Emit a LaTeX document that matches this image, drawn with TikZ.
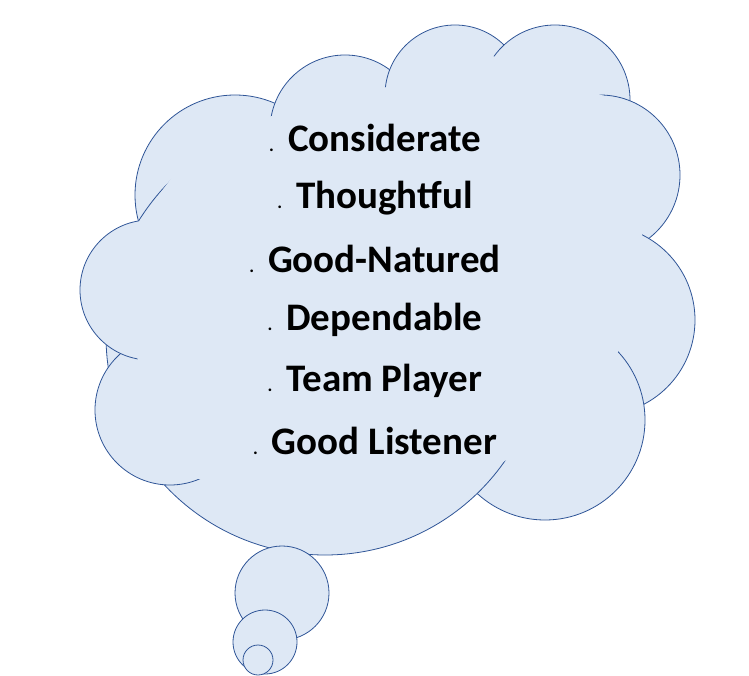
\documentclass[tikz,border=0pt]{standalone}
\usepackage{fontspec}
\setmainfont{Carlito}
\definecolor{cfill}{HTML}{DEE8F5}
\definecolor{cline}{HTML}{2F5597}
\newcommand{\bul}{{\fontsize{18}{18}\selectfont.}\hspace{14pt}}
\begin{document}
\begin{tikzpicture}[x=1pt,y=-1pt,
  bump/.style={fill=cfill,draw=cline,line width=0.8pt},
  item/.style={font=\bfseries\fontsize{39}{44}\selectfont,anchor=center}]
\useasboundingbox (0,0) rectangle (749,676);
\foreach \x/\y/\r in {235/195/100,345/130/75,455/95/70,555/100/75,600/175/80,600/320/95,545/420/100,325/336/219,170/410/75,150/290/70}
  \draw[bump] (\x,\y) circle (\r);
\fill[cfill] (125,240)--(200,140)--(290,110)--(395,85)--(490,55)--(615,100)--(645,250)--(605,400)--(490,470)--(330,520)--(170,470)--(135,350)--(100,290)--cycle;
\draw[bump] (282,593) circle (47);
\draw[bump] (265,642) circle (32);
\draw[bump] (258,660) circle (15);
\node[item] (a) at (375,138) {\bul Considerate};
\node[item] (b) at (375,198) {\bul Thoughtful};
\node[item] (c) at (375,259) {\bul Good-Natured};
\node[item] (d) at (375,320) {\bul Dependable};
\node[item] (e) at (375,381) {\bul Team Player};
\node[item] (f) at (375,441) {\bul Good Listener};
\end{tikzpicture}
\end{document}
